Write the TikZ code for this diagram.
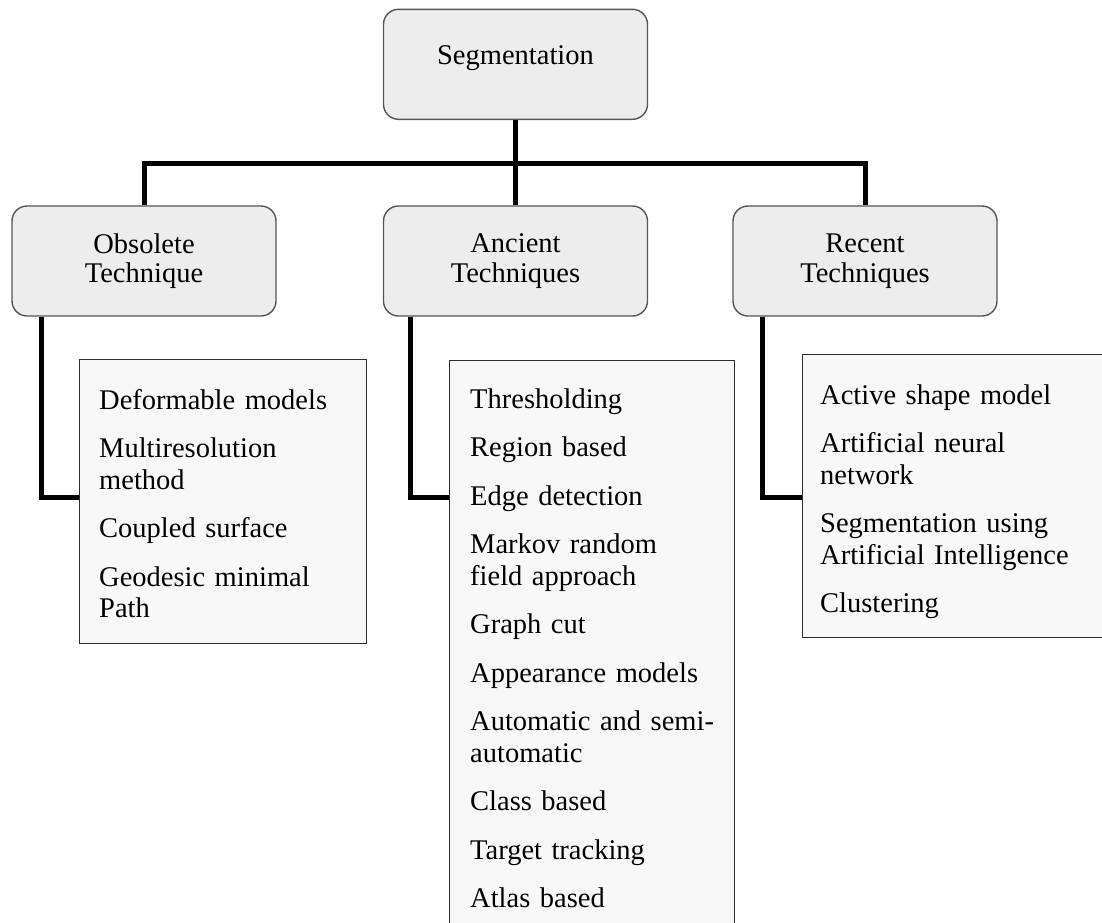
\documentclass[tikz,border=0pt]{standalone}
\usepackage{fontspec}
\setmainfont{Liberation Serif}
\usetikzlibrary{calc}
\definecolor{hdrfill}{HTML}{EDEDED}
\definecolor{hdrline}{HTML}{555555}
\definecolor{boxfill}{HTML}{F8F8F8}
\definecolor{boxline}{HTML}{2E2E2E}
\tikzset{
  hdrbase/.style={draw=hdrline, fill=hdrfill, rounded corners=15pt, line width=1.4pt,
    minimum width=264pt, minimum height=110pt, inner sep=0pt,
    font=\fontsize{28.5pt}{29.5pt}\selectfont},
  hdr/.style={hdrbase, text width=260pt, align=center},
  lbox/.style={draw=boxline, fill=boxfill, line width=1.4pt, anchor=north west, inner sep=0pt},
  ltext/.style={anchor=base west, inner sep=0pt, text width=280pt, align=left,
    font=\fontsize{28.5pt}{31.5pt}\selectfont},
  conn/.style={line width=5pt, black}
}
\begin{document}
\begin{tikzpicture}[x=1pt,y=-1pt]
\useasboundingbox (0,0) rectangle (1102,922);
\clip (0,0) rectangle (1102,922);

% header boxes
\node[hdrbase, text depth=18pt] (seg) at (515.5,64.3) {Segmentation};
\node[hdr] (obs) at (144,261) {Obsolete\\Technique};
\node[hdr] (anc) at (515.5,261) {Ancient\\Techniques};
\node[hdr] (rec) at (865,261) {Recent\\Techniques};

% list boxes
\node[lbox, minimum width=287pt, minimum height=284pt] (L1) at (79,359) {};
\node[lbox, minimum width=285pt, minimum height=580pt] (L2) at (449,360) {};
\node[lbox, minimum width=306pt, minimum height=283pt] (L3) at (802,354) {};

% tree connectors
\coordinate (bus) at (515.5,163.5);
\draw[conn] (seg.south) -- (seg.south |- bus);
\draw[conn] (obs.north) -- (obs.north |- bus) -- (rec.north |- bus) -- (rec.north);
\draw[conn] (anc.north) -- (anc.north |- bus);

% branch connectors
\draw[conn] ([xshift=30pt]obs.south west) |- ([yshift=-138pt]L1.north west);
\draw[conn] ([xshift=28pt]anc.south west) |- ([yshift=-137pt]L2.north west);
\draw[conn] ([xshift=30pt]rec.south west) |- ([yshift=-143pt]L3.north west);

% list texts
\node[ltext] (L1t) at (99,409) {Deformable models\\[17pt]
  Multiresolution\\ method\\[17pt]
  Coupled surface\\[17pt]
  Geodesic minimal\\ Path};
\node[ltext] (L2t) at (470,408) {Thresholding\\[17pt]
  Region based\\[17pt]
  Edge detection\\[17pt]
  Markov random\\ field approach\\[17pt]
  Graph cut\\[17pt]
  Appearance models\\[17pt]
  Automatic and semi-\\ automatic\\[17pt]
  Class based\\[17pt]
  Target tracking\\[17pt]
  Atlas based};
\node[ltext] (L3t) at (820,404) {Active shape model\\[17pt]
  Artificial neural\\ network\\[17pt]
  Segmentation using\\ Artificial Intelligence\\[17pt]
  Clustering};
\end{tikzpicture}
\end{document}
